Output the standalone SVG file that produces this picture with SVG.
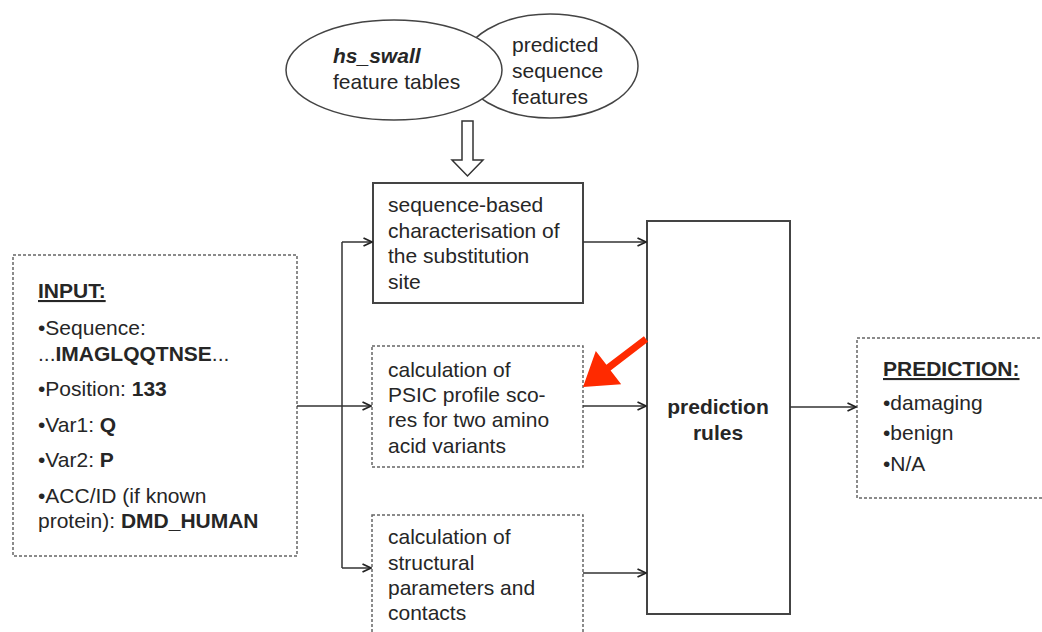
<svg xmlns="http://www.w3.org/2000/svg" width="1042" height="632" viewBox="0 0 1042 632">
<defs>
<style>
text{font-family:"Liberation Sans",Arial,sans-serif;font-size:21px;fill:#262626}
.b{font-weight:bold}
.solid{fill:#fff;stroke:#444;stroke-width:2}
.dash{fill:#fff;stroke:#666;stroke-width:1.5;stroke-dasharray:3 2}
.ell{fill:#fff;stroke:#444;stroke-width:1.5}
.con{fill:none;stroke:#333;stroke-width:1.5}
</style>
<marker id="ah" viewBox="0 0 10 10" refX="9.5" refY="5" markerWidth="10" markerHeight="10" markerUnits="userSpaceOnUse" orient="auto">
<path d="M1,1 L9.5,5 L1,9" fill="none" stroke="#222" stroke-width="1.8"/>
</marker>
</defs>
<rect width="1042" height="632" fill="#fff"/>

<g id="sources">
<ellipse class="ell" cx="550" cy="66" rx="88" ry="52"/>
<ellipse class="ell" cx="394" cy="70" rx="108" ry="50"/>
<text x="333" y="63" class="b" font-style="italic">hs_swall</text>
<text x="333" y="89">feature tables</text>
<text x="512" y="52">predicted</text>
<text x="512" y="78">sequence</text>
<text x="512" y="104">features</text>
<path d="M462,121 L473,121 L473,160 L483,160 L467.5,176 L452,160 L462,160 Z" fill="#fff" stroke="#333" stroke-width="1.5"/>
</g>

<g id="input">
<rect class="dash" x="13" y="255" width="284" height="301"/>
<text x="38" y="298" class="b" text-decoration="underline">INPUT:</text>
<text x="38" y="335">•Sequence:</text>
<text x="38" y="361">...<tspan class="b">IMAGLQQTNSE</tspan>...</text>
<text x="38" y="396">•Position: <tspan class="b">133</tspan></text>
<text x="38" y="432">•Var1: <tspan class="b">Q</tspan></text>
<text x="38" y="467">•Var2: <tspan class="b">P</tspan></text>
<text x="38" y="503">•ACC/ID (if known</text>
<text x="38" y="528">protein): <tspan class="b">DMD_HUMAN</tspan></text>
</g>

<g id="seqbased">
<rect class="solid" x="373" y="183" width="210" height="120"/>
<text x="388" y="212">sequence-based</text>
<text x="388" y="238">characterisation of</text>
<text x="388" y="263">the substitution</text>
<text x="388" y="289">site</text>
</g>

<g id="psic">
<rect class="dash" x="372" y="346" width="211" height="121"/>
<text x="388" y="377">calculation of</text>
<text x="388" y="402">PSIC profile sco-</text>
<text x="388" y="427">res for two amino</text>
<text x="388" y="453">acid variants</text>
</g>

<g id="structural">
<rect class="dash" x="372" y="515" width="211" height="130"/>
<text x="388" y="544">calculation of</text>
<text x="388" y="570">structural</text>
<text x="388" y="595">parameters and</text>
<text x="388" y="620">contacts</text>
</g>

<g id="rules">
<rect class="solid" x="647" y="221" width="143" height="393"/>
<text x="718" y="414" class="b" text-anchor="middle">prediction</text>
<text x="718" y="440" class="b" text-anchor="middle">rules</text>
</g>

<g id="prediction">
<rect class="dash" x="857" y="338" width="200" height="160"/>
<text x="883" y="376" class="b" text-anchor="start" text-decoration="underline">PREDICTION:</text>
<text x="883" y="410">•damaging</text>
<text x="883" y="440">•benign</text>
<text x="883" y="471">•N/A</text>
</g>

<g id="connectors">
<path class="con" d="M297,406 L371,406" marker-end="url(#ah)"/>
<path class="con" d="M342,242 L342,568"/>
<path class="con" d="M342,242 L372,242" marker-end="url(#ah)"/>
<path class="con" d="M342,568 L371,568" marker-end="url(#ah)"/>
<path class="con" d="M583,242 L646,242" marker-end="url(#ah)"/>
<path class="con" d="M583,406 L646,406" marker-end="url(#ah)"/>
<path class="con" d="M583,573 L646,573" marker-end="url(#ah)"/>
<path class="con" d="M790,407 L856,407" marker-end="url(#ah)"/>
</g>

<g id="highlight">
<polygon points="643.9,336.2 606.4,364.8 595.8,350.9 583,387 621.2,384.3 610.6,370.4 648.1,341.8" fill="#ff2a00"/>
</g>
</svg>
